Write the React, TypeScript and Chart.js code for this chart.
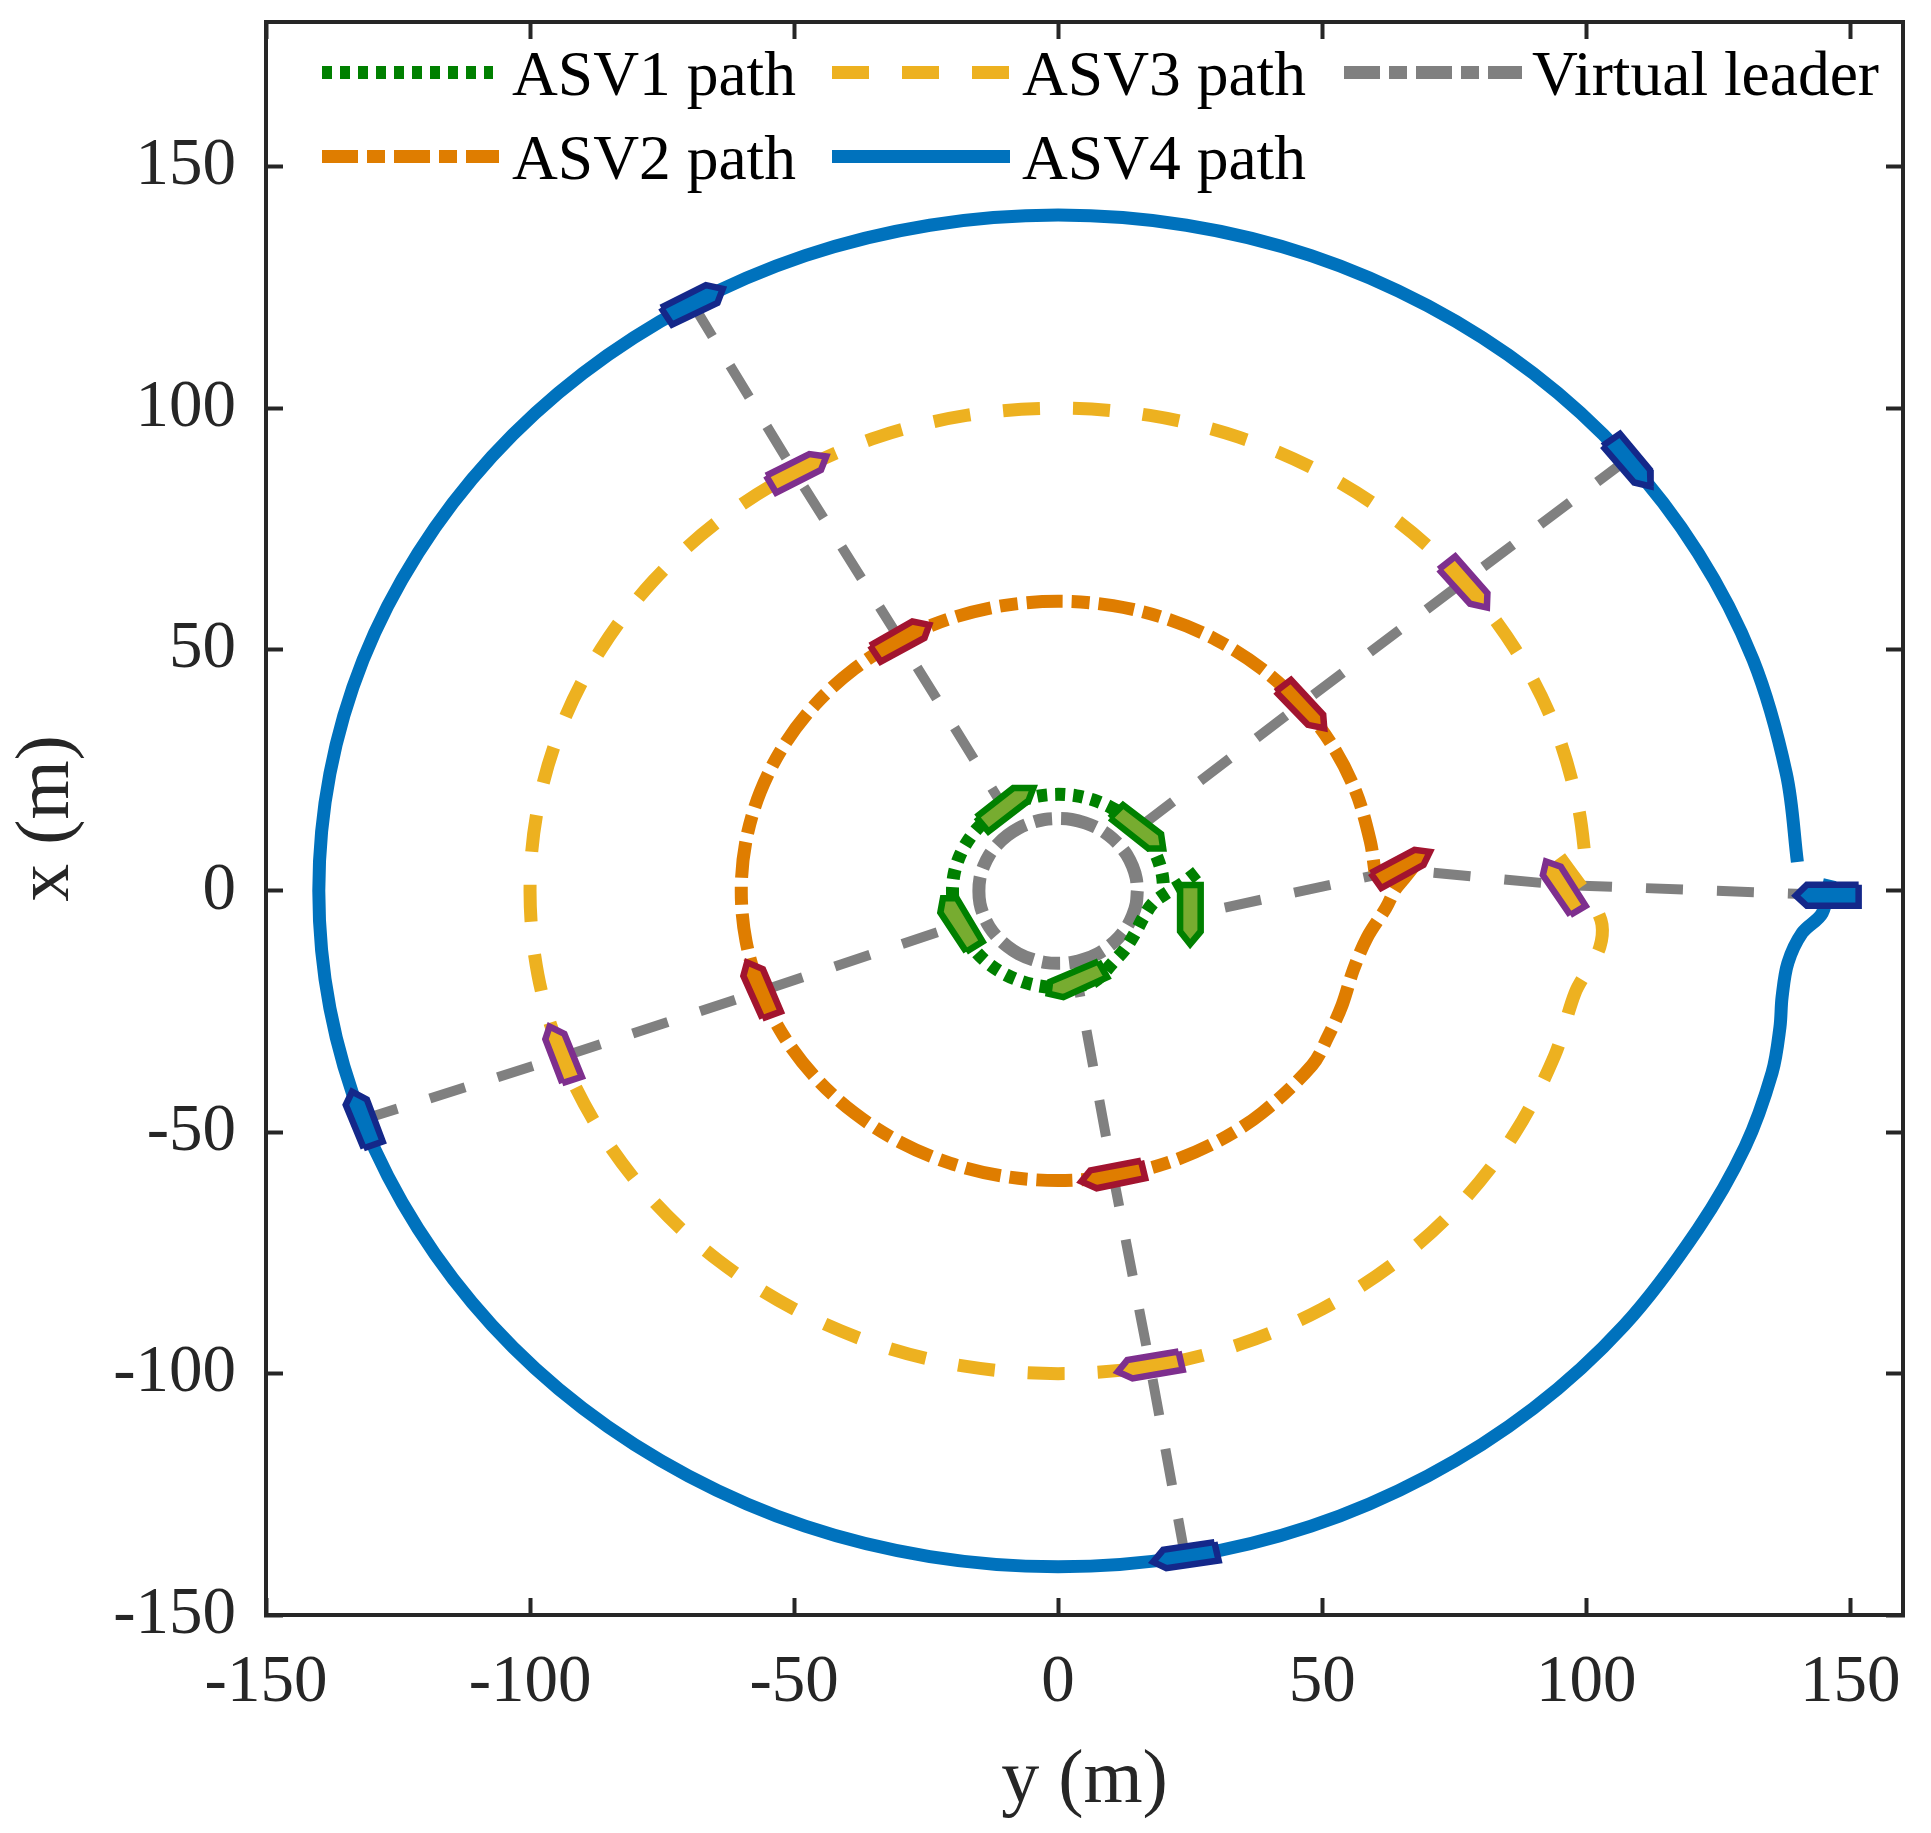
import React, { useEffect, useRef } from "react";
import { Chart, registerables } from "chart.js";

Chart.register(...registerables);

const xTicks = [-150, -100, -50, 0, 50, 100, 150];
const yTicks = [-150, -100, -50, 0, 50, 100, 150];

// All pairs are [y (m), x (m)]: horizontal axis value first.
const asv1Path = [
  [26.3, 3.9], [23.5, 1.5], [20.6, -0.4], [18, -2.5], [16.1, -5.6], [14.6, -8.7], [12.7, -12], [10.5, -14.7],
  [6.8, -18.8], [3.5, -19.7], [0, -20], [-3.5, -19.7], [-6.8, -18.8], [-10, -17.3], [-12.9, -15.3], [-15.3, -12.9],
  [-17.3, -10], [-18.8, -6.8], [-19.7, -3.5], [-20, 0], [-19.7, 3.5], [-18.8, 6.8], [-17.3, 10], [-15.3, 12.9],
  [-12.9, 15.3], [-10, 17.3], [-6.8, 18.8], [-3.5, 19.7], [0, 20], [3.5, 19.7], [6.8, 18.8], [10, 17.3],
  [12.9, 15.3], [15.3, 12.9], [17.3, 10], [18.8, 6.8], [19.7, 3.5], [20, 0.5],
];
const asv2Path = [
  [68, 6], [65.5, 2.5], [63.8, 0.2], [62.1, -3.5], [58.5, -9.7], [55.9, -16.4], [53.8, -23.6], [51.1, -30.2], [48.1, -36.1],
  [38.6, -46], [30, -52], [20.5, -56.4], [10.4, -59.1], [0, -60], [-10.4, -59.1], [-20.5, -56.4], [-30, -52], [-38.6, -46],
  [-46, -38.6], [-52, -30], [-56.4, -20.5], [-59.1, -10.4], [-60, 0], [-59.1, 10.4], [-56.4, 20.5], [-52, 30], [-46, 38.6],
  [-38.6, 46], [-30, 52], [-20.5, 56.4], [-10.4, 59.1], [0, 60], [10.4, 59.1], [20.5, 56.4], [30, 52], [38.6, 46],
  [46, 38.6], [52, 30], [56.4, 20.5], [59.1, 10.4], [60, 4],
];
const asv3Path = [
  [95, 7], [97, 4], [99, 1], [101.5, -3], [103, -7], [102.6, -11.6], [100.5, -16], [97.9, -21.1], [94, -34.2],
  [86.6, -50], [76.6, -64.3], [64.3, -76.6], [50, -86.6], [34.2, -94], [17.4, -98.5], [0, -100], [-17.4, -98.5], [-34.2, -94],
  [-50, -86.6], [-64.3, -76.6], [-76.6, -64.3], [-86.6, -50], [-94, -34.2], [-98.5, -17.4], [-100, 0], [-98.5, 17.4], [-94, 34.2],
  [-86.6, 50], [-76.6, 64.3], [-64.3, 76.6], [-50, 86.6], [-34.2, 94], [-17.4, 98.5], [0, 100], [17.4, 98.5], [34.2, 94],
  [50, 86.6], [64.3, 76.6], [76.6, 64.3], [86.6, 50], [94, 34.2], [98.5, 17.4], [100, 5],
];
const asv4Path = [
  [146.2, 2.3], [144.7, -4.6], [140.9, -8.7], [138.2, -14.9], [137.1, -22], [136.7, -28.2], [135.2, -37.7], [130.1, -53],
  [121.2, -70], [107.2, -90], [90, -107.2], [70, -121.2], [47.9, -131.6], [24.3, -137.9], [0, -140], [-24.3, -137.9], [-47.9, -131.6],
  [-70, -121.2], [-90, -107.2], [-107.2, -90], [-121.2, -70], [-131.6, -47.9], [-137.9, -24.3], [-140, 0], [-137.9, 24.3], [-131.6, 47.9],
  [-121.2, 70], [-107.2, 90], [-90, 107.2], [-70, 121.2], [-47.9, 131.6], [-24.3, 137.9], [0, 140], [24.3, 137.9], [47.9, 131.6],
  [70, 121.2], [90, 107.2], [107.2, 90], [121.2, 70], [131.6, 47.9], [137.9, 24.3], [140, 6],
];
const virtualPath = [
  [15, 0], [14.8, -2.6], [14.1, -5.1], [13, -7.5], [11.5, -9.6], [9.6, -11.5], [7.5, -13], [5.1, -14.1], [2.6, -14.8], [0, -15],
  [-2.6, -14.8], [-5.1, -14.1], [-7.5, -13], [-9.6, -11.5], [-11.5, -9.6], [-13, -7.5], [-14.1, -5.1], [-14.8, -2.6], [-15, 0],
  [-14.8, 2.6], [-14.1, 5.1], [-13, 7.5], [-11.5, 9.6], [-9.6, 11.5], [-7.5, 13], [-5.1, 14.1], [-2.6, 14.8], [0, 15],
  [2.6, 14.8], [5.1, 14.1], [7.5, 13], [9.6, 11.5], [11.5, 9.6], [13, 7.5], [14.1, 5.1], [14.8, 2.6], [15, 0],
];

const spokes = [
  [[145.2, -0.8], [96, 1.2], [64.8, 4.4], [25, -5]],
  [[107.7, 89.3], [76.7, 64], [45.8, 38.5], [15.5, 13.3]],
  [[-69.1, 121.4], [-49.8, 86.6], [-29.9, 52], [-10, 16.8]],
  [[-131.8, -47.4], [-93.4, -34.2], [-55.5, -20.5], [-18.6, -7]],
  [[24, -137.6], [17.4, -98.2], [10.4, -58.8], [3.8, -19.5]],
];

const asv1Hulls = [
  [[23.1, 1.2], [27, 1.2], [27, -8.4], [25, -11], [23.1, -8.4]],
  [[9.8, 15.1], [12.3, 17.8], [19.5, 11.8], [19.9, 8.8], [17.1, 8.8]],
  [[-15.5, 15.3], [-13.2, 12.3], [-5.6, 18.7], [-4.7, 21.3], [-8.5, 21.3]],
  [[-17.4, -12.6], [-14.3, -10.5], [-19.2, -1.5], [-21.8, -1.5], [-22.3, -4.5]],
  [[7.6, -14.6], [9.3, -17.9], [1, -22], [-1.8, -21.3], [-1.5, -18.8]],
];
const asv2Hulls = [
  [[59.2, 3.7], [61.2, 0.6], [69.2, 5.4], [70.4, 8.1], [67.5, 8.5]],
  [[41.2, 41.3], [44.1, 43.7], [50.2, 36.5], [50.4, 33.7], [47.3, 34.4]],
  [[-35.6, 50.8], [-33.6, 47.5], [-25.3, 52.4], [-24.4, 55.1], [-27.6, 55.8]],
  [[-56, -26.4], [-52.5, -25], [-55.9, -16.2], [-58.9, -14.8], [-59.6, -17.6]],
  [[15.7, -55.9], [16.5, -59.5], [7.3, -61.6], [4.4, -60.2], [6.1, -57.9]],
];
const asv3Hulls = [
  [[97, -5], [99.9, -3.1], [95.2, 5], [92.4, 6.1], [91.8, 3.3]],
  [[72.1, 66.6], [75.2, 69.3], [81.3, 61.7], [81.2, 58.7], [78, 59.5]],
  [[-55.3, 86], [-53.4, 82.5], [-44.9, 87.2], [-43.9, 90], [-47.1, 90.5]],
  [[-93.9, -39.8], [-90.2, -38.5], [-93.5, -29.6], [-96.3, -28.1], [-97.1, -30.7]],
  [[22.8, -95.4], [23.6, -99.2], [14.1, -101], [11.3, -99.6], [13.1, -97.2]],
];
const asv4Hulls = [
  [[151.6, 1.3], [151.6, -3.1], [141.8, -3.1], [139.7, -1], [141.8, 1.3]],
  [[103.1, 92.2], [106.4, 94.7], [112.1, 87.2], [112.2, 83.8], [109.1, 84.6]],
  [[-75.2, 120.8], [-73.1, 117.3], [-64.5, 121.8], [-63.5, 124.7], [-66.7, 125.5]],
  [[-131.5, -53.3], [-127.9, -51.9], [-130.9, -43.2], [-133.7, -41.6], [-134.9, -44.3]],
  [[29.6, -134.9], [30.4, -138.7], [20.5, -140.3], [18, -139], [19.9, -136.5]],
];

const GREEN = "#008000";
const ORANGE = "#DF7D00";
const GOLD = "#EDB120";
const BLUE = "#0072BD";
const GRAY = "#808080";
const AXIS = "#262626";
const SERIF = "'Liberation Serif', 'Times New Roman', serif";

const DOT = [10, 8];
const DASH = [37, 33];
const DASHDOT = [36, 9, 18, 9];

const pts = (a: number[][]) => a.map(([x, y]) => ({ x, y }));

const pathDs = (label: string, data: number[][], color: string, dash: number[]) => ({
  label,
  data: pts(data),
  borderColor: color,
  borderWidth: 13,
  borderDash: dash,
  borderCapStyle: "butt",
  pointRadius: 0,
  tension: 0.335,
  fill: false,
  order: 1,
});

const hullDs = (hull: number[][], fillColor: string, edge: string) => ({
  label: "",
  data: pts([...hull, hull[0]]),
  borderColor: edge,
  backgroundColor: fillColor,
  borderWidth: 6.5,
  borderJoinStyle: "miter",
  pointRadius: 0,
  tension: 0,
  fill: "shape",
  order: 0,
});

const legendRows = [
  { text: "ASV1 path", color: GREEN, dash: DOT, x0: 322, x1: 493, tx: 512, ly: 72.5, by: 95 },
  { text: "ASV3 path", color: GOLD, dash: DASH, x0: 832, x1: 1010, tx: 1022, ly: 72.5, by: 95 },
  { text: "Virtual leader", color: GRAY, dash: DASHDOT, x0: 1344, x1: 1522, tx: 1532, ly: 72.5, by: 95 },
  { text: "ASV2 path", color: ORANGE, dash: DASHDOT, x0: 322, x1: 499, tx: 512, ly: 156.5, by: 179 },
  { text: "ASV4 path", color: BLUE, dash: [], x0: 832, x1: 1010, tx: 1022, ly: 156.5, by: 179 },
];

const legendPlugin = {
  id: "cornerLegend",
  afterDraw(chart: any) {
    const ctx = chart.ctx;
    ctx.save();
    for (const r of legendRows) {
      ctx.beginPath();
      ctx.lineWidth = 13;
      ctx.lineCap = "butt";
      ctx.strokeStyle = r.color;
      ctx.setLineDash(r.dash);
      ctx.moveTo(r.x0, r.ly);
      ctx.lineTo(r.x1, r.ly);
      ctx.stroke();
      ctx.setLineDash([]);
      ctx.fillStyle = "#000";
      ctx.font = `63.5px ${SERIF}`;
      ctx.textAlign = "left";
      ctx.textBaseline = "alphabetic";
      ctx.fillText(r.text, r.tx, r.by);
    }
    ctx.restore();
  },
};

const fixSize = (dim: "width" | "height", value: number) => (s: any) => {
  s[dim] = value;
  s.paddingTop = 0;
  s.paddingBottom = 0;
  s.paddingLeft = 0;
  s.paddingRight = 0;
};

export default function App() {
  const ref = useRef<HTMLCanvasElement>(null);
  useEffect(() => {
    const datasets: any[] = [
      pathDs("ASV1 path", asv1Path, GREEN, DOT),
      pathDs("ASV2 path", asv2Path, ORANGE, DASHDOT),
      pathDs("ASV3 path", asv3Path, GOLD, DASH),
      pathDs("ASV4 path", asv4Path, BLUE, []),
      pathDs("Virtual leader", virtualPath, GRAY, DASHDOT),
      ...spokes.map((s) => ({
        label: "",
        data: pts(s),
        borderColor: GRAY,
        borderWidth: 10,
        borderDash: [37, 34],
        borderCapStyle: "butt",
        pointRadius: 0,
        tension: 0,
        fill: false,
        order: 2,
      })),
      ...asv1Hulls.map((h) => hullDs(h, "#77AC30", GREEN)),
      ...asv2Hulls.map((h) => hullDs(h, ORANGE, "#A2142F")),
      ...asv3Hulls.map((h) => hullDs(h, GOLD, "#7E2F8E")),
      ...asv4Hulls.map((h) => hullDs(h, BLUE, "#14288A")),
    ];
    const tickFont = { family: SERIF, size: 67 };
    const titleFont = { family: SERIF, size: 76, lineHeight: 1 };
    const border = { display: true, color: AXIS, width: 4 };
    const grid = { drawOnChartArea: false, drawTicks: true, tickLength: -17, tickColor: AXIS, tickWidth: 4 };
    const setTicks = (values: number[]) => (s: any) => {
      s.ticks = values.map((value) => ({ value }));
    };
    const chart = new Chart(ref.current!, {
      type: "line",
      data: { datasets },
      plugins: [legendPlugin],
      options: {
        animation: false,
        responsive: false,
        events: [],
        layout: { autoPadding: false, padding: { top: 22, right: 28, left: 0, bottom: 0 } },
        plugins: { legend: { display: false }, tooltip: { enabled: false } },
        scales: {
          x: {
            type: "linear",
            position: "bottom",
            min: -150,
            max: 160,
            border,
            grid,
            afterBuildTicks: setTicks(xTicks),
            afterFit: fixSize("height", 218),
            ticks: { font: tickFont, color: AXIS, padding: 45, maxRotation: 0, autoSkip: false },
            title: { display: true, text: "y (m)", font: titleFont, color: AXIS, padding: { top: 0, bottom: 13 } },
          },
          y: {
            type: "linear",
            position: "left",
            min: -150,
            max: 180,
            border,
            grid,
            afterBuildTicks: setTicks(yTicks),
            afterFit: fixSize("width", 266),
            ticks: { font: tickFont, color: AXIS, padding: 47, autoSkip: false },
            title: { display: true, text: "x (m)", font: titleFont, color: AXIS, padding: { top: 10, bottom: 0 } },
          },
          xTop: {
            type: "linear",
            axis: "x",
            position: "top",
            min: -150,
            max: 160,
            border,
            grid,
            afterBuildTicks: setTicks(xTicks),
            afterFit: fixSize("height", 0),
            ticks: { display: false },
          },
          yRight: {
            type: "linear",
            axis: "y",
            position: "right",
            min: -150,
            max: 180,
            border,
            grid,
            afterBuildTicks: setTicks(yTicks),
            afterFit: fixSize("width", 0),
            ticks: { display: false },
          },
        },
      } as any,
    } as any);
    return () => chart.destroy();
  }, []);
  return (
    <div style={{ position: "absolute", left: 0, top: 0, width: 1931, height: 1833, background: "#fff" }}>
      <canvas ref={ref} width={1931} height={1833} style={{ display: "block", width: 1931, height: 1833 }} />
    </div>
  );
}
